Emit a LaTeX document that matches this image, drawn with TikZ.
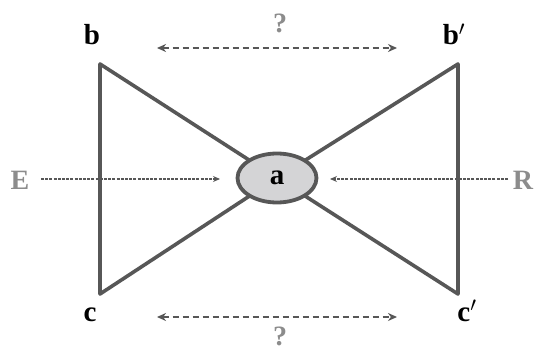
\documentclass[tikz,border=0pt]{standalone}
\usepackage{fontspec}
\setmainfont{Liberation Serif}
\usetikzlibrary{arrows.meta,shapes.geometric}
\definecolor{edgegray}{HTML}{575757}
\definecolor{labgray}{HTML}{8C8C8C}
\definecolor{fillgray}{HTML}{D4D4D6}
\tikzset{
  lab/.style={font=\fontsize{29}{29}\selectfont\bfseries, text=black, inner sep=0pt},
  glab/.style={font=\fontsize{28}{28}\selectfont\bfseries, text=labgray, inner sep=0pt},
  tri/.style={draw=edgegray, line width=3.6pt, line join=round},
  dasharrow/.style={draw=edgegray, line width=2pt, dash pattern=on 6pt off 4pt, {Stealth[length=9pt,width=8pt]}-{Stealth[length=9pt,width=8pt]}},
  dotarrow/.style={draw=edgegray, line width=1.3pt, dash pattern=on 3pt off 1.2pt, -{Stealth[length=7pt,width=6pt]}},
}
\begin{document}
\begin{tikzpicture}[x=1pt,y=-1pt]
\useasboundingbox (0,0) rectangle (538,350);
\coordinate (bv) at (100,64);
\coordinate (cv) at (100,294);
\coordinate (bpv) at (458,64);
\coordinate (cpv) at (458,294);
\coordinate (ac) at (277,178);
\draw[tri] (ac) -- (bv) -- (cv) -- cycle;
\draw[tri] (ac) -- (bpv) -- (cpv) -- cycle;
\node[draw=edgegray, line width=3.8pt, fill=fillgray, ellipse, minimum width=79pt, minimum height=49pt, inner sep=0pt, font=\fontsize{29}{29}\selectfont\bfseries] (a) at (ac) {a};
\node[lab, anchor=base] (b) at (92,45) {b};
\node[lab, anchor=base] (bp) at (454,45) {b$'$};
\node[lab, anchor=base] (c) at (90,321) {c};
\node[lab, anchor=base] (cp) at (467,321) {c$'$};
\node[glab, anchor=base] (E) at (20,189) {E};
\node[glab, anchor=base] (R) at (523,189) {R};
\node[glab, anchor=base] (q1) at (280,33) {?};
\node[glab, anchor=base] (q2) at (280,345) {?};
\coordinate (t1) at (157,48);
\coordinate (t2) at (397,48);
\coordinate (u1) at (157,317);
\coordinate (u2) at (397,317);
\coordinate (e1) at (41,179);
\coordinate (e2) at (220,179);
\coordinate (r1) at (508,179);
\coordinate (r2) at (330,179);
\draw[dasharrow] (t1) -- (t2);
\draw[dasharrow] (u1) -- (u2);
\draw[dotarrow] (e1) -- (e2);
\draw[dotarrow] (r1) -- (r2);
\end{tikzpicture}
\end{document}
